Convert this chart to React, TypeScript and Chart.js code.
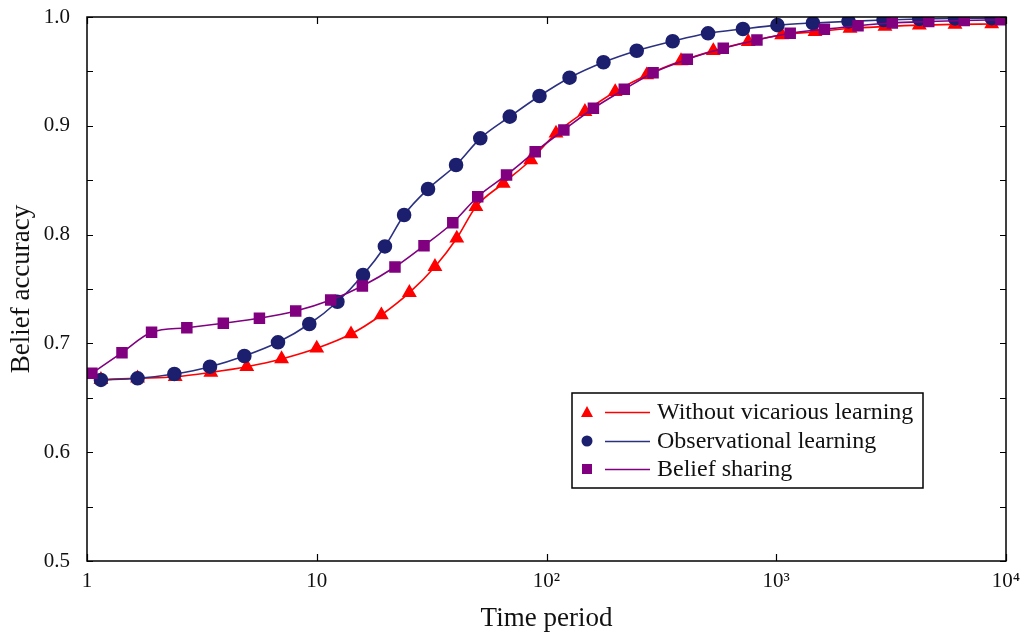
import React, { useEffect, useRef } from "react";
import { Chart, registerables } from "chart.js";

Chart.register(...registerables);

// ---- data ----
const xTickValues = [1, 10, 100, 1000, 10000];
const xTickLabels = ["1", "10", "10²", "10³", "10⁴"];
const yTickValues = [0.5, 0.6, 0.7, 0.8, 0.9, 1.0];

const seriesNames = ["Without vicarious learning", "Observational learning", "Belief sharing"];

const withoutX = [1.15, 1.66, 2.42, 3.46, 4.96, 7.03, 10.0, 14.1, 19.1, 25.3, 32.7, 40.7, 49.3, 64.8, 85.4, 110, 147, 199, 273, 385, 532, 755, 1056, 1475, 2095, 2973, 4195, 6000, 8665];
const withoutY = [0.6667, 0.668, 0.6694, 0.6734, 0.6786, 0.6857, 0.6955, 0.7086, 0.7261, 0.7466, 0.7705, 0.7966, 0.8256, 0.8471, 0.8686, 0.8931, 0.913, 0.9313, 0.9467, 0.9596, 0.969, 0.9773, 0.9835, 0.9865, 0.9895, 0.9912, 0.9925, 0.9932, 0.9936];

const observX = [1.15, 1.66, 2.4, 3.43, 4.84, 6.78, 9.28, 12.3, 15.9, 19.8, 24.0, 30.5, 40.4, 51.5, 69.2, 93.2, 126, 177, 247, 354, 505, 716, 1012, 1444, 2063, 2932, 4195, 6000, 8665];
const observY = [0.6664, 0.6679, 0.6719, 0.6786, 0.6884, 0.701, 0.7178, 0.7383, 0.7629, 0.7891, 0.818, 0.8419, 0.864, 0.8885, 0.9084, 0.9274, 0.9442, 0.9584, 0.969, 0.9777, 0.985, 0.989, 0.9925, 0.9945, 0.996, 0.9972, 0.9982, 0.9987, 0.999];

const sharingX = [1.05, 1.42, 1.91, 2.72, 3.92, 5.63, 8.1, 11.5, 15.8, 21.9, 29.3, 39.1, 50.2, 67.0, 89.3, 119, 160, 218, 291, 410, 588, 824, 1150, 1620, 2270, 3200, 4610, 6580, 9500];
const sharingY = [0.6725, 0.6915, 0.7102, 0.7144, 0.7185, 0.7231, 0.7298, 0.7399, 0.7528, 0.7702, 0.7898, 0.8109, 0.8348, 0.8548, 0.8762, 0.8961, 0.9161, 0.9335, 0.9488, 0.9611, 0.9712, 0.9789, 0.985, 0.9887, 0.992, 0.9945, 0.9958, 0.9968, 0.9975];

const RED = "#ff0000";
const NAVY = "#1b1f6e";
const NAVY_LINE = "#2b3080";
const PURPLE = "#800080";

const zip = (xs: number[], ys: number[]) => xs.map((x, i) => ({ x, y: ys[i] }));

const SERIF = "'Liberation Serif', 'Times New Roman', serif";

const frameAndLegend = {
  id: "frameAndLegend",
  afterDatasetsDraw(chart: any) {
    const { ctx, chartArea, scales } = chart;
    const { left, right, top, bottom } = chartArea;
    ctx.save();
    ctx.strokeStyle = "#000";
    ctx.lineWidth = 1.5;
    ctx.strokeRect(left, top, right - left, bottom - top);
    // inward ticks
    ctx.lineWidth = 1.2;
    ctx.beginPath();
    const xs = scales.x;
    for (const v of xTickValues) {
      const px = Math.round(xs.getPixelForValue(v)) + 0.5;
      ctx.moveTo(px, bottom);
      ctx.lineTo(px, bottom - 7);
      ctx.moveTo(px, top);
      ctx.lineTo(px, top + 7);
    }
    const ys = scales.y;
    for (let k = 0; k <= 10; k++) {
      const v = 0.5 + k * 0.05;
      const py = Math.round(ys.getPixelForValue(v)) + 0.5;
      ctx.moveTo(left, py);
      ctx.lineTo(left + 6, py);
      ctx.moveTo(right, py);
      ctx.lineTo(right - 6, py);
    }
    ctx.stroke();

    // legend
    const bx = 572, by = 393, bw = 351, bh = 95;
    ctx.fillStyle = "#fff";
    ctx.fillRect(bx, by, bw, bh);
    ctx.lineWidth = 1.5;
    ctx.strokeStyle = "#000";
    ctx.strokeRect(bx, by, bw, bh);
    const rows = [412, 441, 469];
    const colors = [RED, NAVY, PURPLE];
    const lineColors = [RED, NAVY_LINE, PURPLE];
    ctx.font = "24px " + SERIF;
    ctx.textBaseline = "middle";
    rows.forEach((ry, i) => {
      const mx = 587;
      ctx.fillStyle = colors[i];
      ctx.beginPath();
      if (i === 0) {
        ctx.moveTo(mx, ry - 6);
        ctx.lineTo(mx + 6, ry + 5);
        ctx.lineTo(mx - 6, ry + 5);
        ctx.closePath();
      } else if (i === 1) {
        ctx.arc(mx, ry, 5.5, 0, Math.PI * 2);
      } else {
        ctx.rect(mx - 5, ry - 5, 10, 10);
      }
      ctx.fill();
      ctx.strokeStyle = lineColors[i];
      ctx.lineWidth = 1.5;
      ctx.beginPath();
      ctx.moveTo(605, ry + 0.5);
      ctx.lineTo(650, ry + 0.5);
      ctx.stroke();
      ctx.fillStyle = "#111";
      ctx.fillText(seriesNames[i], 657, ry + 1);
    });
    ctx.restore();
  },
};

export default function App() {
  const ref = useRef<HTMLCanvasElement | null>(null);
  useEffect(() => {
    if (!ref.current) return;
    const chart = new Chart(ref.current, {
      type: "line",
      data: {
        datasets: [
          {
            label: seriesNames[2],
            data: zip(sharingX, sharingY),
            borderColor: PURPLE,
            backgroundColor: PURPLE,
            pointBackgroundColor: PURPLE,
            pointBorderColor: PURPLE,
            pointStyle: "rect",
            pointRadius: 7,
            borderWidth: 1.6,
            cubicInterpolationMode: "monotone",
          },
          {
            label: seriesNames[1],
            data: zip(observX, observY),
            borderColor: NAVY_LINE,
            backgroundColor: NAVY,
            pointBackgroundColor: NAVY,
            pointBorderColor: NAVY,
            pointStyle: "circle",
            pointRadius: 6.5,
            borderWidth: 1.6,
            cubicInterpolationMode: "monotone",
          },
          {
            label: seriesNames[0],
            data: zip(withoutX, withoutY),
            borderColor: RED,
            backgroundColor: RED,
            pointBackgroundColor: RED,
            pointBorderColor: RED,
            pointStyle: "triangle",
            pointRadius: 7,
            borderWidth: 1.6,
            cubicInterpolationMode: "monotone",
          },
        ],
      },
      options: {
        animation: false,
        responsive: true,
        maintainAspectRatio: false,
        layout: { padding: { left: 0, top: 17, right: 15, bottom: 0 } },
        plugins: { legend: { display: false }, tooltip: { enabled: false } },
        scales: {
          x: {
            type: "logarithmic",
            min: 1,
            max: 10000,
            grid: { display: false },
            border: { display: false },
            afterBuildTicks: (scale: any) => {
              scale.ticks = xTickValues.map((v) => ({ value: v }));
            },
            afterFit: (scale: any) => {
              scale.height = 71;
              scale.paddingLeft = 0;
              scale.paddingRight = 0;
            },
            ticks: {
              autoSkip: false,
              maxRotation: 0,
              padding: 0,
              color: "#111",
              font: { family: SERIF, size: 21 },
              callback: (v: any) => {
                const i = xTickValues.indexOf(Number(v));
                return i >= 0 ? xTickLabels[i] : "";
              },
            },
            title: {
              display: true,
              text: "Time period",
              color: "#111",
              font: { family: SERIF, size: 27, lineHeight: 1.0 },
              padding: { top: 0, bottom: 0 },
            },
          },
          y: {
            min: 0.5,
            max: 1.0,
            grid: { display: false },
            border: { display: false },
            afterBuildTicks: (scale: any) => {
              scale.ticks = yTickValues.map((v) => ({ value: v }));
            },
            afterFit: (scale: any) => {
              scale.width = 87;
              scale.paddingTop = 0;
              scale.paddingBottom = 0;
            },
            ticks: {
              padding: 9,
              color: "#111",
              font: { family: SERIF, size: 21 },
              callback: (v: any) => Number(v).toFixed(1),
            },
            title: {
              display: true,
              text: "Belief accuracy",
              color: "#111",
              font: { family: SERIF, size: 27 },
              padding: { top: 6, bottom: 0 },
            },
          },
        },
      },
      plugins: [frameAndLegend],
    } as any);
    return () => chart.destroy();
  }, []);
  return (
    <div style={{ position: "absolute", left: 0, top: 0, width: 1021, height: 632, background: "#fff" }}>
      <canvas ref={ref} />
    </div>
  );
}
